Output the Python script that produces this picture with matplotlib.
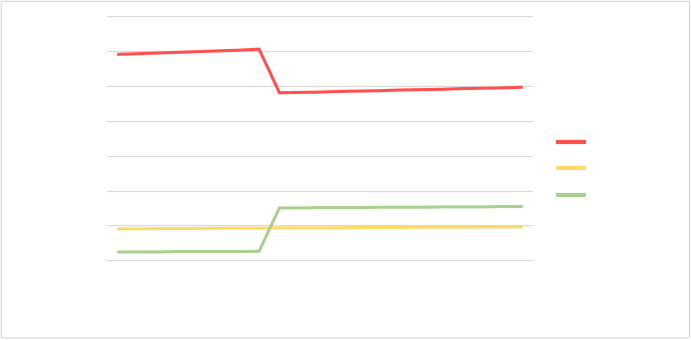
import matplotlib
matplotlib.use("Agg")
import matplotlib.pyplot as plt
from matplotlib.lines import Line2D
from matplotlib.patches import FancyBboxPatch

# 21 categories, values (axis 0..7, no labels shown)
categories = list(range(1, 22))
red_vals = [5.90, 5.92, 5.94, 5.96, 5.98, 6.00, 6.02, 6.05,
            4.80, 4.81, 4.82, 4.84, 4.85, 4.86, 4.88, 4.89, 4.90, 4.92, 4.93, 4.94, 4.96]
yellow_vals = [0.90, 0.90, 0.91, 0.91, 0.91, 0.92, 0.92, 0.92, 0.93, 0.93, 0.93,
               0.93, 0.94, 0.94, 0.94, 0.95, 0.95, 0.95, 0.96, 0.96, 0.96]
green_vals = [0.24, 0.24, 0.24, 0.25, 0.25, 0.25, 0.25, 0.26,
              1.50, 1.50, 1.51, 1.51, 1.51, 1.52, 1.52, 1.52, 1.53, 1.53, 1.53, 1.54, 1.54]
series_labels = [" ", " ", " "]
colors = ["#FF5050", "#FFD966", "#A9D18E"]

fig = plt.figure(figsize=(6.91, 3.40), dpi=100)
fig.patch.set_facecolor("white")
fig.patches.append(FancyBboxPatch((0.002, 0.006), 0.996, 0.99, boxstyle="round,pad=0,rounding_size=0.004",
                                  transform=fig.transFigure, fill=False, ec="#D9D9D9", lw=0.9))

ax = fig.add_axes([107 / 691, 1 - 260.3 / 340, 426 / 691, (260.3 - 16) / 340])
x = range(len(categories))
for vals, c in zip([red_vals, yellow_vals, green_vals], colors):
    ax.plot(x, vals, color=c, lw=2.2, solid_capstyle="butt", solid_joinstyle="miter")

ax.set_xlim(-0.5, len(categories) - 0.5)
ax.set_ylim(0, 7)
ax.set_yticks(range(8))
ax.grid(axis="y", color="#D9D9D9", lw=0.8)
ax.set_axisbelow(True)
for s in ["top", "right", "left"]:
    ax.spines[s].set_visible(False)
ax.spines["bottom"].set_color("#D9D9D9")
ax.spines["bottom"].set_linewidth(0.8)
ax.tick_params(left=False, bottom=False, labelleft=False, labelbottom=False)

handles = [Line2D([0], [0], color=c, lw=3, solid_capstyle="butt") for c in colors]
fig.legend(handles, series_labels, loc="center left", bbox_to_anchor=(556 / 691, 1 - 169 / 340),
           frameon=False, fontsize=10, handlelength=2.16, labelspacing=0.9, handletextpad=0.3,
           borderpad=0, borderaxespad=0)

fig.savefig("out.png", dpi=100)
